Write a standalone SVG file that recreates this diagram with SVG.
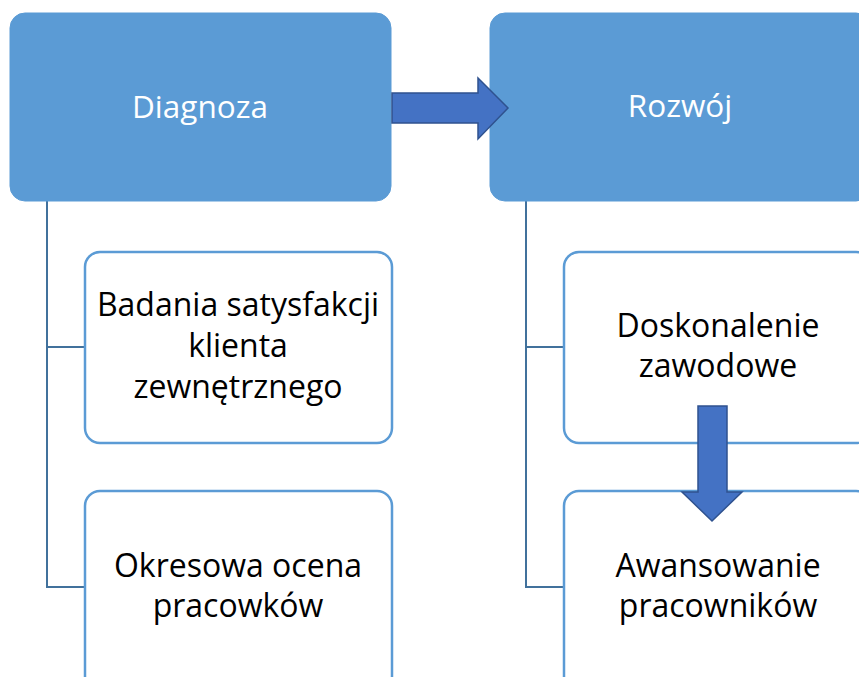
<svg xmlns="http://www.w3.org/2000/svg" width="859" height="677" viewBox="0 0 859 677">
<style>
.head{fill:#5B9BD5;stroke:#5B9BD5;stroke-width:1}
.child{fill:#FFFFFF;stroke:#5B9BD5;stroke-width:2.5}
.conn{fill:none;stroke:#41719C;stroke-width:2}
.arrow{fill:#4472C4;stroke:#2F528F;stroke-width:1.5}
.ht{font-family:"Open Sans","Liberation Sans",sans-serif;font-size:31.5px;fill:#FFFFFF;text-anchor:middle}
.ct{font-family:"Open Sans","Liberation Sans",sans-serif;font-size:32px;fill:#000000;text-anchor:middle}
</style>
<rect width="859" height="677" fill="#FFFFFF"/>
<g id="connectors">
<path class="conn" d="M47,201 V587 H85 M47,347 H85"/>
<path class="conn" d="M526,201 V587 H564 M526,347 H564"/>
</g>
<g id="diagnoza">
<rect class="head" x="10" y="13" width="381" height="188" rx="15"/>
<text class="ht" x="200" y="118">Diagnoza</text>
</g>
<g id="rozwoj">
<rect class="head" x="490" y="13" width="381" height="188" rx="15"/>
<text class="ht" x="680" y="117">Rozwój</text>
</g>
<g id="badania">
<rect class="child" x="85" y="252" width="307" height="191" rx="15"/>
<text class="ct" x="238" y="316">Badania satysfakcji</text>
<text class="ct" x="238" y="357">klienta</text>
<text class="ct" x="238" y="398">zewnętrznego</text>
</g>
<g id="okresowa">
<rect class="child" x="85" y="491" width="307" height="200" rx="15"/>
<text class="ct" x="238" y="577">Okresowa ocena</text>
<text class="ct" x="238" y="617">pracowków</text>
</g>
<g id="doskonalenie">
<rect class="child" x="564" y="252" width="307" height="191" rx="15"/>
<text class="ct" x="718" y="337">Doskonalenie</text>
<text class="ct" x="718" y="377">zawodowe</text>
</g>
<g id="awansowanie">
<rect class="child" x="564" y="491" width="307" height="200" rx="15"/>
<text class="ct" x="718" y="577">Awansowanie</text>
<text class="ct" x="718" y="617">pracowników</text>
</g>
<g id="arrow-right">
<path class="arrow" d="M392,93 H478 V78 L508,108 L478,139 V123 H392 Z"/>
</g>
<g id="arrow-down">
<path class="arrow" d="M698,406 H727 V492 H742 L712,521 L682,492 H698 Z"/>
</g>
</svg>
